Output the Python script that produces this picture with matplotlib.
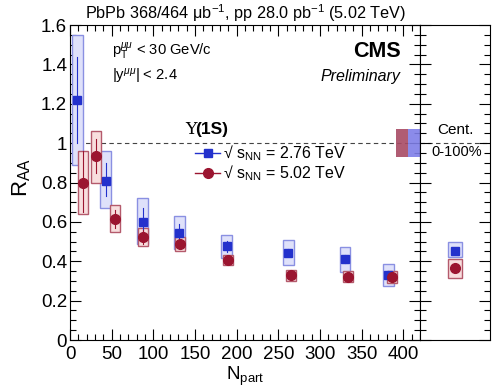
import matplotlib
matplotlib.use("Agg")
import matplotlib.pyplot as plt
from matplotlib.patches import Rectangle
from matplotlib.ticker import MultipleLocator, NullLocator

plt.rcParams["font.family"] = ["Liberation Sans", "DejaVu Sans"]
plt.rcParams["mathtext.fontset"] = "custom"
plt.rcParams["mathtext.rm"] = "Liberation Sans"
plt.rcParams["mathtext.it"] = "Liberation Sans:italic"
plt.rcParams["mathtext.bf"] = "Liberation Sans:bold"

# --- data: 2.76 TeV (blue squares) ---
npart_276 = [8.8, 42.8, 87, 131, 188, 262, 330, 382]
raa_276 = [1.22, 0.81, 0.60, 0.545, 0.475, 0.443, 0.41, 0.33]
stat_lo_276 = [1.00, 0.73, 0.55, 0.50, 0.445, 0.425, 0.39, 0.31]
stat_hi_276 = [1.44, 0.90, 0.67, 0.59, 0.505, 0.46, 0.43, 0.35]
syst_lo_276 = [0.89, 0.67, 0.49, 0.46, 0.415, 0.38, 0.347, 0.274]
syst_hi_276 = [1.55, 0.96, 0.72, 0.63, 0.535, 0.506, 0.47, 0.386]
bw_276 = [14, 13, 13, 13, 13, 13, 13, 13]

# --- data: 5.02 TeV (red circles) ---
npart_502 = [16, 31, 54, 87, 132, 190, 265, 334, 386]
raa_502 = [0.80, 0.935, 0.615, 0.525, 0.487, 0.405, 0.328, 0.32, 0.32]
stat_lo_502 = [0.65, 0.85, 0.57, 0.49, 0.46, 0.39, 0.315, 0.305, 0.305]
stat_hi_502 = [0.96, 1.02, 0.66, 0.56, 0.515, 0.42, 0.34, 0.335, 0.335]
syst_lo_502 = [0.64, 0.80, 0.55, 0.48, 0.45, 0.38, 0.30, 0.295, 0.29]
syst_hi_502 = [0.96, 1.06, 0.685, 0.57, 0.525, 0.43, 0.355, 0.35, 0.35]
bw_502 = [12, 12, 12, 12, 12, 12, 12, 12, 12]

# --- centrality integrated (0-100%) ---
int_raa = [0.453, 0.364]          # 2.76, 5.02
int_syst_lo = [0.42, 0.316]
int_syst_hi = [0.50, 0.41]
glob_unc = [0.07, 0.07]           # global uncertainty boxes at 1

BLUE = "#2331cc"
BLUE_FILL = "#dfe1fa"
BLUE_EDGE = "#8a90e2"
RED = "#9b1530"
RED_FILL = "#f8dede"
RED_EDGE = "#b45a6c"

fig = plt.figure(figsize=(4.92, 3.87), dpi=100)
ax = fig.add_axes([0.1423, 0.1214, 0.7114, 0.8140])
axr = fig.add_axes([0.8537, 0.1214, 0.1422, 0.8140])


def boxes(a, xs, lo, hi, w, fc, ec):
    for x, l, h, ww in zip(xs, lo, hi, w):
        a.add_patch(Rectangle((x - ww / 2, l), ww, h - l, facecolor=fc,
                              edgecolor=ec, lw=1.0, zorder=2))


boxes(ax, npart_276, syst_lo_276, syst_hi_276, bw_276, BLUE_FILL, BLUE_EDGE)
boxes(ax, npart_502, syst_lo_502, syst_hi_502, bw_502, RED_FILL, RED_EDGE)

for x, l, h in zip(npart_276, stat_lo_276, stat_hi_276):
    ax.plot([x, x], [l, h], color=BLUE, lw=0.8, zorder=3)
for x, l, h in zip(npart_502, stat_lo_502, stat_hi_502):
    ax.plot([x, x], [l, h], color=RED, lw=0.8, zorder=3)
ax.plot(npart_276, raa_276, "s", color=BLUE, ms=6, zorder=4, ls="none")
ax.plot(npart_502, raa_502, "o", color=RED, ms=7, zorder=4, ls="none")

# global uncertainty boxes
xmax = 420
ax.add_patch(Rectangle((xmax - 29, 1 - glob_unc[1]), 14.5, 2 * glob_unc[1],
                       facecolor="#a84a64", edgecolor="none", alpha=0.9, zorder=2))
ax.add_patch(Rectangle((xmax - 14.5, 1 - glob_unc[0]), 14.5, 2 * glob_unc[0],
                       facecolor="#7f7fe8", edgecolor="none", alpha=0.9, zorder=2))

ax.axhline(1, color="#444", ls=(0, (4, 3)), lw=0.8, zorder=1)
axr.axhline(1, color="#444", ls=(0, (4, 3)), lw=0.8, zorder=1)

ax.set_xlim(0, xmax)
ax.set_ylim(0, 1.6)
ax.xaxis.set_major_locator(MultipleLocator(50))
ax.xaxis.set_minor_locator(MultipleLocator(10))
ax.yaxis.set_major_locator(MultipleLocator(0.2))
ax.yaxis.set_minor_locator(MultipleLocator(0.05))
ax.yaxis.set_major_formatter(plt.FuncFormatter(lambda v, p: f"{v:g}"))
ax.tick_params(which="both", direction="in", top=True, right=True, labelsize=13.5)
ax.tick_params(which="major", length=8, width=0.8)
ax.tick_params(which="minor", length=4, width=0.8)
ax.tick_params(axis="x", pad=4)
ax.tick_params(axis="y", pad=2)
ax.set_xlabel(r"N$_{\mathregular{part}}$", fontsize=13.5)
ax.set_ylabel(r"R$_{\mathregular{AA}}$", fontsize=16)
ax.xaxis.set_label_coords(0.5, -0.078)
ax.yaxis.set_label_coords(-0.106, 0.515)

# right panel
axr.set_xlim(0, 1)
axr.set_ylim(0, 1.6)
axr.xaxis.set_major_locator(NullLocator())
axr.yaxis.set_major_locator(MultipleLocator(0.2))
axr.yaxis.set_minor_locator(MultipleLocator(0.05))
axr.tick_params(which="both", direction="in", left=True, right=True,
                labelleft=False, labelright=False)
axr.tick_params(which="major", length=8, width=0.8)
axr.tick_params(which="minor", length=4, width=0.8)
cx = 0.5
for y, l, h, fc, ec, col, mk, ms in zip(int_raa, int_syst_lo, int_syst_hi,
                                        [BLUE_FILL, RED_FILL], [BLUE_EDGE, RED_EDGE],
                                        [BLUE, RED], ["s", "o"], [6, 7]):
    axr.add_patch(Rectangle((cx - 0.1, l), 0.2, h - l, facecolor=fc,
                            edgecolor=ec, lw=1.0, zorder=2))
    axr.plot([cx], [y], mk, color=col, ms=ms, zorder=4)
axr.text(0.5, 1.066, "Cent.", ha="center", va="center", fontsize=11)
axr.text(0.52, 0.954, "0-100%", ha="center", va="center", fontsize=10.5)

# texts
fig.text(0.5, 0.966, "PbPb 368/464 \u03bcb$^{-1}$, pp 28.0 pb$^{-1}$ (5.02 TeV)",
         ha="center", va="center", fontsize=11.7)
ax.text(0.12, 0.915, "p$_{\\mathregular{T}}^{\u03bc\u03bc}$ < 30 GeV/c",
        transform=ax.transAxes, fontsize=10.6, va="center")
ax.text(0.12, 0.835, "|y$^{\u03bc\u03bc}$| < 2.4",
        transform=ax.transAxes, fontsize=10.6, va="center")
ax.text(0.945, 0.915, "CMS", transform=ax.transAxes, fontsize=15.5,
        fontweight="bold", ha="right", va="center")
ax.text(0.945, 0.835, "Preliminary", transform=ax.transAxes, fontsize=11.5,
        style="italic", ha="right", va="center")

# legend (drawn by hand to match placement)
ax.text(0.329, 0.667, "\u03a5", transform=ax.transAxes, fontsize=12.5,
        family="DejaVu Serif", va="center")
ax.text(0.358, 0.667, "(1S)", transform=ax.transAxes, fontsize=12.5,
        fontweight="bold", va="center")
leg = [(0.594, BLUE, "s", 6, "2.76"), (0.530, RED, "o", 7, "5.02")]
for ly, col, mk, ms, e in leg:
    ax.plot([0.357, 0.429], [ly, ly], color=col, lw=1.0, transform=ax.transAxes,
            clip_on=False, zorder=5)
    ax.plot([0.393], [ly], mk, color=col, ms=ms, transform=ax.transAxes,
            clip_on=False, zorder=5)
    ax.text(0.437, ly, "\u221a s$_{\\mathregular{NN}}$ = " + e + " TeV",
            transform=ax.transAxes, fontsize=11.5, va="center")

fig.savefig("out.png", dpi=100)
